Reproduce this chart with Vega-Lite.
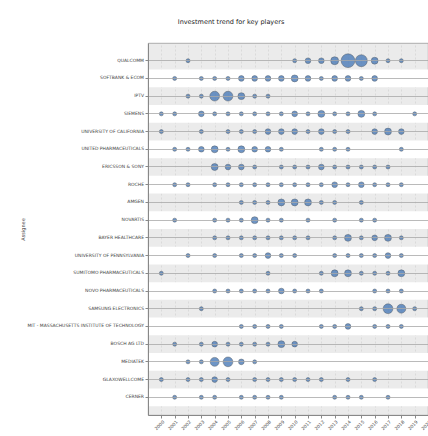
{
  "$schema": "https://vega.github.io/schema/vega-lite/v6.json",
  "autosize": "none",
  "width": 280,
  "height": 372,
  "padding": {"left": 148, "top": 43, "right": 0, "bottom": 21},
  "title": {"text": "Investment trend for key players", "fontSize": 6.5, "fontWeight": "normal", "color": "#222", "anchor": "middle", "dx": -57, "offset": 18},
  "config": {"font": "DejaVu Sans", "view": {"fill": "#ebebeb", "stroke": "#9a9a9a", "strokeWidth": 0.8}},
  "datasets": {
    "stripes": [
      {"c": "SOFTBANK & ECOM"}, {"c": "SIEMENS"}, {"c": "UNITED PHARMACEUTICALS"}, {"c": "ROCHE"}, {"c": "NOVARTIS"},
      {"c": "UNIVERSITY OF PENNSYLVANIA"}, {"c": "NOVO PHARMACEUTICALS"}, {"c": "MIT - MASSACHUSETTS INSTITUTE OF TECHNOLOGY"}, {"c": "MEDIATEK"}, {"c": "CERNER"}
    ],
    "pts": [
      {"c": "QUALCOMM", "year": 2002, "n": 1}, {"c": "QUALCOMM", "year": 2010, "n": 1}, {"c": "QUALCOMM", "year": 2011, "n": 2}, {"c": "QUALCOMM", "year": 2012, "n": 2}, {"c": "QUALCOMM", "year": 2013, "n": 4}, {"c": "QUALCOMM", "year": 2014, "n": 12}, {"c": "QUALCOMM", "year": 2015, "n": 9}, {"c": "QUALCOMM", "year": 2016, "n": 3}, {"c": "QUALCOMM", "year": 2017, "n": 1}, {"c": "QUALCOMM", "year": 2018, "n": 1},
      {"c": "SOFTBANK & ECOM", "year": 2001, "n": 1}, {"c": "SOFTBANK & ECOM", "year": 2003, "n": 1}, {"c": "SOFTBANK & ECOM", "year": 2004, "n": 1}, {"c": "SOFTBANK & ECOM", "year": 2005, "n": 1}, {"c": "SOFTBANK & ECOM", "year": 2006, "n": 2}, {"c": "SOFTBANK & ECOM", "year": 2007, "n": 2}, {"c": "SOFTBANK & ECOM", "year": 2008, "n": 2}, {"c": "SOFTBANK & ECOM", "year": 2009, "n": 2}, {"c": "SOFTBANK & ECOM", "year": 2010, "n": 3}, {"c": "SOFTBANK & ECOM", "year": 2011, "n": 2}, {"c": "SOFTBANK & ECOM", "year": 2012, "n": 1}, {"c": "SOFTBANK & ECOM", "year": 2013, "n": 2}, {"c": "SOFTBANK & ECOM", "year": 2014, "n": 2}, {"c": "SOFTBANK & ECOM", "year": 2015, "n": 1}, {"c": "SOFTBANK & ECOM", "year": 2016, "n": 2},
      {"c": "IPTV", "year": 2002, "n": 1}, {"c": "IPTV", "year": 2003, "n": 1}, {"c": "IPTV", "year": 2004, "n": 6}, {"c": "IPTV", "year": 2005, "n": 6}, {"c": "IPTV", "year": 2006, "n": 3}, {"c": "IPTV", "year": 2007, "n": 1}, {"c": "IPTV", "year": 2008, "n": 1},
      {"c": "SIEMENS", "year": 2000, "n": 1}, {"c": "SIEMENS", "year": 2001, "n": 1}, {"c": "SIEMENS", "year": 2003, "n": 2}, {"c": "SIEMENS", "year": 2004, "n": 1}, {"c": "SIEMENS", "year": 2005, "n": 1}, {"c": "SIEMENS", "year": 2006, "n": 1}, {"c": "SIEMENS", "year": 2007, "n": 1}, {"c": "SIEMENS", "year": 2008, "n": 1}, {"c": "SIEMENS", "year": 2009, "n": 1}, {"c": "SIEMENS", "year": 2010, "n": 2}, {"c": "SIEMENS", "year": 2011, "n": 1}, {"c": "SIEMENS", "year": 2012, "n": 3}, {"c": "SIEMENS", "year": 2013, "n": 1}, {"c": "SIEMENS", "year": 2014, "n": 1}, {"c": "SIEMENS", "year": 2015, "n": 3}, {"c": "SIEMENS", "year": 2016, "n": 1}, {"c": "SIEMENS", "year": 2019, "n": 1},
      {"c": "UNIVERSITY OF CALIFORNIA", "year": 2000, "n": 1}, {"c": "UNIVERSITY OF CALIFORNIA", "year": 2003, "n": 1}, {"c": "UNIVERSITY OF CALIFORNIA", "year": 2005, "n": 1}, {"c": "UNIVERSITY OF CALIFORNIA", "year": 2006, "n": 1}, {"c": "UNIVERSITY OF CALIFORNIA", "year": 2007, "n": 1}, {"c": "UNIVERSITY OF CALIFORNIA", "year": 2008, "n": 2}, {"c": "UNIVERSITY OF CALIFORNIA", "year": 2009, "n": 2}, {"c": "UNIVERSITY OF CALIFORNIA", "year": 2010, "n": 2}, {"c": "UNIVERSITY OF CALIFORNIA", "year": 2011, "n": 1}, {"c": "UNIVERSITY OF CALIFORNIA", "year": 2012, "n": 2}, {"c": "UNIVERSITY OF CALIFORNIA", "year": 2013, "n": 1}, {"c": "UNIVERSITY OF CALIFORNIA", "year": 2014, "n": 1}, {"c": "UNIVERSITY OF CALIFORNIA", "year": 2016, "n": 2}, {"c": "UNIVERSITY OF CALIFORNIA", "year": 2017, "n": 3}, {"c": "UNIVERSITY OF CALIFORNIA", "year": 2018, "n": 2},
      {"c": "UNITED PHARMACEUTICALS", "year": 2001, "n": 1}, {"c": "UNITED PHARMACEUTICALS", "year": 2002, "n": 1}, {"c": "UNITED PHARMACEUTICALS", "year": 2003, "n": 2}, {"c": "UNITED PHARMACEUTICALS", "year": 2004, "n": 3}, {"c": "UNITED PHARMACEUTICALS", "year": 2005, "n": 1}, {"c": "UNITED PHARMACEUTICALS", "year": 2006, "n": 3}, {"c": "UNITED PHARMACEUTICALS", "year": 2007, "n": 2}, {"c": "UNITED PHARMACEUTICALS", "year": 2008, "n": 2}, {"c": "UNITED PHARMACEUTICALS", "year": 2009, "n": 1}, {"c": "UNITED PHARMACEUTICALS", "year": 2012, "n": 1}, {"c": "UNITED PHARMACEUTICALS", "year": 2013, "n": 1}, {"c": "UNITED PHARMACEUTICALS", "year": 2014, "n": 1}, {"c": "UNITED PHARMACEUTICALS", "year": 2018, "n": 1},
      {"c": "ERICSSON & SONY", "year": 2004, "n": 3}, {"c": "ERICSSON & SONY", "year": 2005, "n": 2}, {"c": "ERICSSON & SONY", "year": 2006, "n": 2}, {"c": "ERICSSON & SONY", "year": 2007, "n": 1}, {"c": "ERICSSON & SONY", "year": 2009, "n": 1}, {"c": "ERICSSON & SONY", "year": 2010, "n": 1}, {"c": "ERICSSON & SONY", "year": 2011, "n": 1}, {"c": "ERICSSON & SONY", "year": 2012, "n": 2}, {"c": "ERICSSON & SONY", "year": 2013, "n": 1}, {"c": "ERICSSON & SONY", "year": 2014, "n": 1}, {"c": "ERICSSON & SONY", "year": 2015, "n": 1}, {"c": "ERICSSON & SONY", "year": 2016, "n": 1}, {"c": "ERICSSON & SONY", "year": 2017, "n": 1},
      {"c": "ROCHE", "year": 2001, "n": 1}, {"c": "ROCHE", "year": 2002, "n": 1}, {"c": "ROCHE", "year": 2004, "n": 1}, {"c": "ROCHE", "year": 2005, "n": 1}, {"c": "ROCHE", "year": 2006, "n": 1}, {"c": "ROCHE", "year": 2007, "n": 1}, {"c": "ROCHE", "year": 2008, "n": 1}, {"c": "ROCHE", "year": 2009, "n": 1}, {"c": "ROCHE", "year": 2010, "n": 1}, {"c": "ROCHE", "year": 2011, "n": 1}, {"c": "ROCHE", "year": 2012, "n": 1}, {"c": "ROCHE", "year": 2013, "n": 2}, {"c": "ROCHE", "year": 2014, "n": 1}, {"c": "ROCHE", "year": 2015, "n": 2}, {"c": "ROCHE", "year": 2016, "n": 1}, {"c": "ROCHE", "year": 2017, "n": 1}, {"c": "ROCHE", "year": 2018, "n": 1},
      {"c": "AMGEN", "year": 2006, "n": 1}, {"c": "AMGEN", "year": 2007, "n": 1}, {"c": "AMGEN", "year": 2008, "n": 1}, {"c": "AMGEN", "year": 2009, "n": 3}, {"c": "AMGEN", "year": 2010, "n": 3}, {"c": "AMGEN", "year": 2011, "n": 3}, {"c": "AMGEN", "year": 2012, "n": 1}, {"c": "AMGEN", "year": 2013, "n": 1}, {"c": "AMGEN", "year": 2015, "n": 1},
      {"c": "NOVARTIS", "year": 2001, "n": 1}, {"c": "NOVARTIS", "year": 2004, "n": 1}, {"c": "NOVARTIS", "year": 2005, "n": 1}, {"c": "NOVARTIS", "year": 2006, "n": 1}, {"c": "NOVARTIS", "year": 2007, "n": 3}, {"c": "NOVARTIS", "year": 2008, "n": 1}, {"c": "NOVARTIS", "year": 2009, "n": 1}, {"c": "NOVARTIS", "year": 2011, "n": 1}, {"c": "NOVARTIS", "year": 2013, "n": 1}, {"c": "NOVARTIS", "year": 2015, "n": 1}, {"c": "NOVARTIS", "year": 2016, "n": 1},
      {"c": "BAYER HEALTHCARE", "year": 2004, "n": 1}, {"c": "BAYER HEALTHCARE", "year": 2005, "n": 1}, {"c": "BAYER HEALTHCARE", "year": 2006, "n": 1}, {"c": "BAYER HEALTHCARE", "year": 2007, "n": 1}, {"c": "BAYER HEALTHCARE", "year": 2008, "n": 1}, {"c": "BAYER HEALTHCARE", "year": 2009, "n": 1}, {"c": "BAYER HEALTHCARE", "year": 2010, "n": 1}, {"c": "BAYER HEALTHCARE", "year": 2011, "n": 1}, {"c": "BAYER HEALTHCARE", "year": 2013, "n": 1}, {"c": "BAYER HEALTHCARE", "year": 2014, "n": 3}, {"c": "BAYER HEALTHCARE", "year": 2015, "n": 1}, {"c": "BAYER HEALTHCARE", "year": 2016, "n": 2}, {"c": "BAYER HEALTHCARE", "year": 2017, "n": 3}, {"c": "BAYER HEALTHCARE", "year": 2018, "n": 1},
      {"c": "UNIVERSITY OF PENNSYLVANIA", "year": 2002, "n": 1}, {"c": "UNIVERSITY OF PENNSYLVANIA", "year": 2004, "n": 1}, {"c": "UNIVERSITY OF PENNSYLVANIA", "year": 2006, "n": 1}, {"c": "UNIVERSITY OF PENNSYLVANIA", "year": 2007, "n": 1}, {"c": "UNIVERSITY OF PENNSYLVANIA", "year": 2008, "n": 2}, {"c": "UNIVERSITY OF PENNSYLVANIA", "year": 2009, "n": 1}, {"c": "UNIVERSITY OF PENNSYLVANIA", "year": 2010, "n": 1}, {"c": "UNIVERSITY OF PENNSYLVANIA", "year": 2013, "n": 1}, {"c": "UNIVERSITY OF PENNSYLVANIA", "year": 2014, "n": 1}, {"c": "UNIVERSITY OF PENNSYLVANIA", "year": 2015, "n": 1}, {"c": "UNIVERSITY OF PENNSYLVANIA", "year": 2016, "n": 1}, {"c": "UNIVERSITY OF PENNSYLVANIA", "year": 2017, "n": 2}, {"c": "UNIVERSITY OF PENNSYLVANIA", "year": 2018, "n": 1},
      {"c": "SUMITOMO PHARMACEUTICALS", "year": 2000, "n": 1}, {"c": "SUMITOMO PHARMACEUTICALS", "year": 2008, "n": 1}, {"c": "SUMITOMO PHARMACEUTICALS", "year": 2012, "n": 1}, {"c": "SUMITOMO PHARMACEUTICALS", "year": 2013, "n": 3}, {"c": "SUMITOMO PHARMACEUTICALS", "year": 2014, "n": 3}, {"c": "SUMITOMO PHARMACEUTICALS", "year": 2015, "n": 1}, {"c": "SUMITOMO PHARMACEUTICALS", "year": 2016, "n": 1}, {"c": "SUMITOMO PHARMACEUTICALS", "year": 2017, "n": 1}, {"c": "SUMITOMO PHARMACEUTICALS", "year": 2018, "n": 3},
      {"c": "NOVO PHARMACEUTICALS", "year": 2004, "n": 1}, {"c": "NOVO PHARMACEUTICALS", "year": 2005, "n": 1}, {"c": "NOVO PHARMACEUTICALS", "year": 2006, "n": 1}, {"c": "NOVO PHARMACEUTICALS", "year": 2007, "n": 1}, {"c": "NOVO PHARMACEUTICALS", "year": 2008, "n": 1}, {"c": "NOVO PHARMACEUTICALS", "year": 2009, "n": 2}, {"c": "NOVO PHARMACEUTICALS", "year": 2010, "n": 1}, {"c": "NOVO PHARMACEUTICALS", "year": 2011, "n": 1}, {"c": "NOVO PHARMACEUTICALS", "year": 2012, "n": 1}, {"c": "NOVO PHARMACEUTICALS", "year": 2016, "n": 1}, {"c": "NOVO PHARMACEUTICALS", "year": 2017, "n": 1}, {"c": "NOVO PHARMACEUTICALS", "year": 2018, "n": 1},
      {"c": "SAMSUNG ELECTRONICS", "year": 2003, "n": 1}, {"c": "SAMSUNG ELECTRONICS", "year": 2015, "n": 1}, {"c": "SAMSUNG ELECTRONICS", "year": 2016, "n": 1}, {"c": "SAMSUNG ELECTRONICS", "year": 2017, "n": 6}, {"c": "SAMSUNG ELECTRONICS", "year": 2018, "n": 5}, {"c": "SAMSUNG ELECTRONICS", "year": 2019, "n": 1},
      {"c": "MIT - MASSACHUSETTS INSTITUTE OF TECHNOLOGY", "year": 2006, "n": 1}, {"c": "MIT - MASSACHUSETTS INSTITUTE OF TECHNOLOGY", "year": 2007, "n": 1}, {"c": "MIT - MASSACHUSETTS INSTITUTE OF TECHNOLOGY", "year": 2008, "n": 1}, {"c": "MIT - MASSACHUSETTS INSTITUTE OF TECHNOLOGY", "year": 2009, "n": 1}, {"c": "MIT - MASSACHUSETTS INSTITUTE OF TECHNOLOGY", "year": 2012, "n": 1}, {"c": "MIT - MASSACHUSETTS INSTITUTE OF TECHNOLOGY", "year": 2013, "n": 1}, {"c": "MIT - MASSACHUSETTS INSTITUTE OF TECHNOLOGY", "year": 2014, "n": 2}, {"c": "MIT - MASSACHUSETTS INSTITUTE OF TECHNOLOGY", "year": 2016, "n": 1}, {"c": "MIT - MASSACHUSETTS INSTITUTE OF TECHNOLOGY", "year": 2017, "n": 1}, {"c": "MIT - MASSACHUSETTS INSTITUTE OF TECHNOLOGY", "year": 2018, "n": 1},
      {"c": "BOSCH AG LTD", "year": 2001, "n": 1}, {"c": "BOSCH AG LTD", "year": 2003, "n": 1}, {"c": "BOSCH AG LTD", "year": 2004, "n": 2}, {"c": "BOSCH AG LTD", "year": 2005, "n": 1}, {"c": "BOSCH AG LTD", "year": 2006, "n": 1}, {"c": "BOSCH AG LTD", "year": 2007, "n": 1}, {"c": "BOSCH AG LTD", "year": 2008, "n": 1}, {"c": "BOSCH AG LTD", "year": 2009, "n": 3}, {"c": "BOSCH AG LTD", "year": 2010, "n": 2},
      {"c": "MEDIATEK", "year": 2002, "n": 1}, {"c": "MEDIATEK", "year": 2003, "n": 1}, {"c": "MEDIATEK", "year": 2004, "n": 5}, {"c": "MEDIATEK", "year": 2005, "n": 6}, {"c": "MEDIATEK", "year": 2006, "n": 2}, {"c": "MEDIATEK", "year": 2007, "n": 1},
      {"c": "GLAXOWELLCOME", "year": 2000, "n": 1}, {"c": "GLAXOWELLCOME", "year": 2002, "n": 1}, {"c": "GLAXOWELLCOME", "year": 2003, "n": 1}, {"c": "GLAXOWELLCOME", "year": 2004, "n": 2}, {"c": "GLAXOWELLCOME", "year": 2005, "n": 1}, {"c": "GLAXOWELLCOME", "year": 2007, "n": 1}, {"c": "GLAXOWELLCOME", "year": 2008, "n": 1}, {"c": "GLAXOWELLCOME", "year": 2009, "n": 1}, {"c": "GLAXOWELLCOME", "year": 2010, "n": 1}, {"c": "GLAXOWELLCOME", "year": 2011, "n": 1}, {"c": "GLAXOWELLCOME", "year": 2012, "n": 1}, {"c": "GLAXOWELLCOME", "year": 2014, "n": 1}, {"c": "GLAXOWELLCOME", "year": 2016, "n": 1},
      {"c": "CERNER", "year": 2001, "n": 1}, {"c": "CERNER", "year": 2003, "n": 1}, {"c": "CERNER", "year": 2004, "n": 1}, {"c": "CERNER", "year": 2006, "n": 1}, {"c": "CERNER", "year": 2007, "n": 1}, {"c": "CERNER", "year": 2008, "n": 1}, {"c": "CERNER", "year": 2009, "n": 1}, {"c": "CERNER", "year": 2013, "n": 1}, {"c": "CERNER", "year": 2014, "n": 1}, {"c": "CERNER", "year": 2015, "n": 1}, {"c": "CERNER", "year": 2017, "n": 1}
    ]
  },
  "encoding": {
    "y": {
      "field": "c", "type": "nominal", "title": "Assignee",
      "scale": {"type": "band", "paddingInner": 0, "paddingOuter": 0.5,
        "domain": ["QUALCOMM", "SOFTBANK & ECOM", "IPTV", "SIEMENS", "UNIVERSITY OF CALIFORNIA", "UNITED PHARMACEUTICALS", "ERICSSON & SONY", "ROCHE", "AMGEN", "NOVARTIS", "BAYER HEALTHCARE", "UNIVERSITY OF PENNSYLVANIA", "SUMITOMO PHARMACEUTICALS", "NOVO PHARMACEUTICALS", "SAMSUNG ELECTRONICS", "MIT - MASSACHUSETTS INSTITUTE OF TECHNOLOGY", "BOSCH AG LTD", "MEDIATEK", "GLAXOWELLCOME", "CERNER"]},
      "axis": {"bandPosition": 0.5, "grid": true, "gridColor": "#a8a8a8", "gridWidth": 0.8, "domainColor": "#888", "tickColor": "#888", "tickSize": 3, "labelFontSize": 4.5, "labelColor": "#444", "labelPadding": 1.5, "labelLimit": 200, "titleFontSize": 5, "titleFontWeight": "normal", "titleColor": "#444", "titlePadding": 1}
    }
  },
  "layer": [
    {
      "data": {"name": "stripes"},
      "mark": {"type": "rect", "fill": "#ffffff"},
      "encoding": {"y": {"field": "c", "type": "nominal"}}
    },
    {
      "data": {"name": "pts"},
      "mark": {"type": "circle", "fill": "#4a7bb8", "fillOpacity": 0.8, "stroke": "#555c66", "strokeWidth": 0.6, "strokeOpacity": 0.8},
      "encoding": {
        "x": {
          "field": "year", "type": "quantitative", "title": null,
          "scale": {"domain": [1999, 2020], "nice": false, "zero": false},
          "axis": {"values": [2000, 2001, 2002, 2003, 2004, 2005, 2006, 2007, 2008, 2009, 2010, 2011, 2012, 2013, 2014, 2015, 2016, 2017, 2018, 2019, 2020], "format": "d", "labelAngle": -45, "labelFontSize": 4.5, "labelColor": "#444", "grid": true, "gridColor": "#cfcfcf", "gridDash": [2, 2], "gridWidth": 0.6, "domainColor": "#888", "tickColor": "#888", "tickSize": 3, "labelPadding": 1, "labelOverlap": false, "labelFlush": false}
        },
        "size": {"field": "n", "type": "quantitative", "legend": null, "scale": {"domain": [1, 12], "range": [16, 190]}}
      }
    }
  ]
}
